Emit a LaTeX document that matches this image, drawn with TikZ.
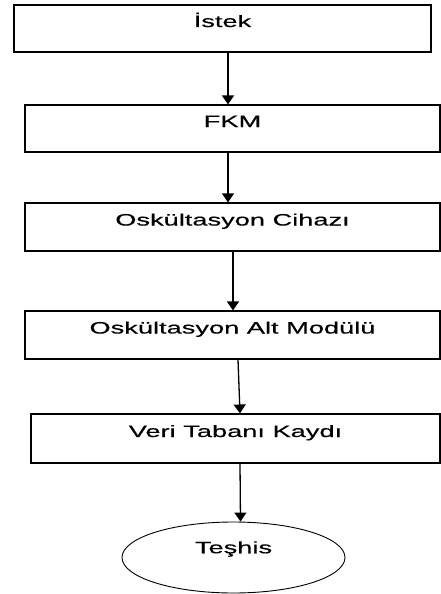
\documentclass[tikz,border=0pt]{standalone}
\usepackage{fontspec}
\setmainfont{Liberation Sans}[FakeStretch=1.65,FakeBold=0.3]
\usetikzlibrary{arrows.meta,shapes.geometric}

\begin{document}
\begin{tikzpicture}[x=1pt,y=-1pt,
	box/.style={draw,line width=1.1pt,minimum height=47pt,inner xsep=0pt,inner ysep=10pt,text height=12pt,text depth=15pt,font=\fontsize{16.5}{19}\selectfont},
	arr/.style={line width=1.3pt,-{Triangle[width=12pt,length=9pt]}}]
	\useasboundingbox (0,0) rectangle (441,594);

	\node[box,minimum width=417pt] (istek) at (222.5,28.5) {İstek};
	\node[box,minimum width=415pt] (fkm) at (232.5,128.5) {FKM};
	\node[box,minimum width=415pt,minimum height=48pt] (cihaz) at (232.5,227) {Oskültasyon Cihazı};
	\node[box,minimum width=415pt,minimum height=48pt] (modul) at (232.5,335) {Oskültasyon Alt Modülü};
	\node[box,minimum width=409pt,minimum height=49pt] (kayit) at (235.5,438.5) {Veri Tabanı Kaydı};
	\node[draw,ellipse,line width=0.9pt,minimum width=223pt,minimum height=71pt,text height=12pt,text depth=20.5pt,font=\fontsize{16.5}{19}\selectfont] (teshis) at (233.5,557.5) {Teşhis};

	\draw[arr] ([xshift=5.5pt]istek.south) -- ([xshift=-4.5pt]fkm.north);
	\draw[arr] ([xshift=-4.5pt]fkm.south) -- ([xshift=-4.5pt]cihaz.north);
	\draw[arr] ([xshift=0.5pt]cihaz.south) -- ([xshift=0.5pt]modul.north);
	\draw[arr] ([xshift=5.5pt]modul.south) -- ([xshift=4.5pt]kayit.north);
	\draw[arr] ([xshift=4.5pt]kayit.south) -- ([xshift=7pt]teshis.north);
\end{tikzpicture}
\end{document}
